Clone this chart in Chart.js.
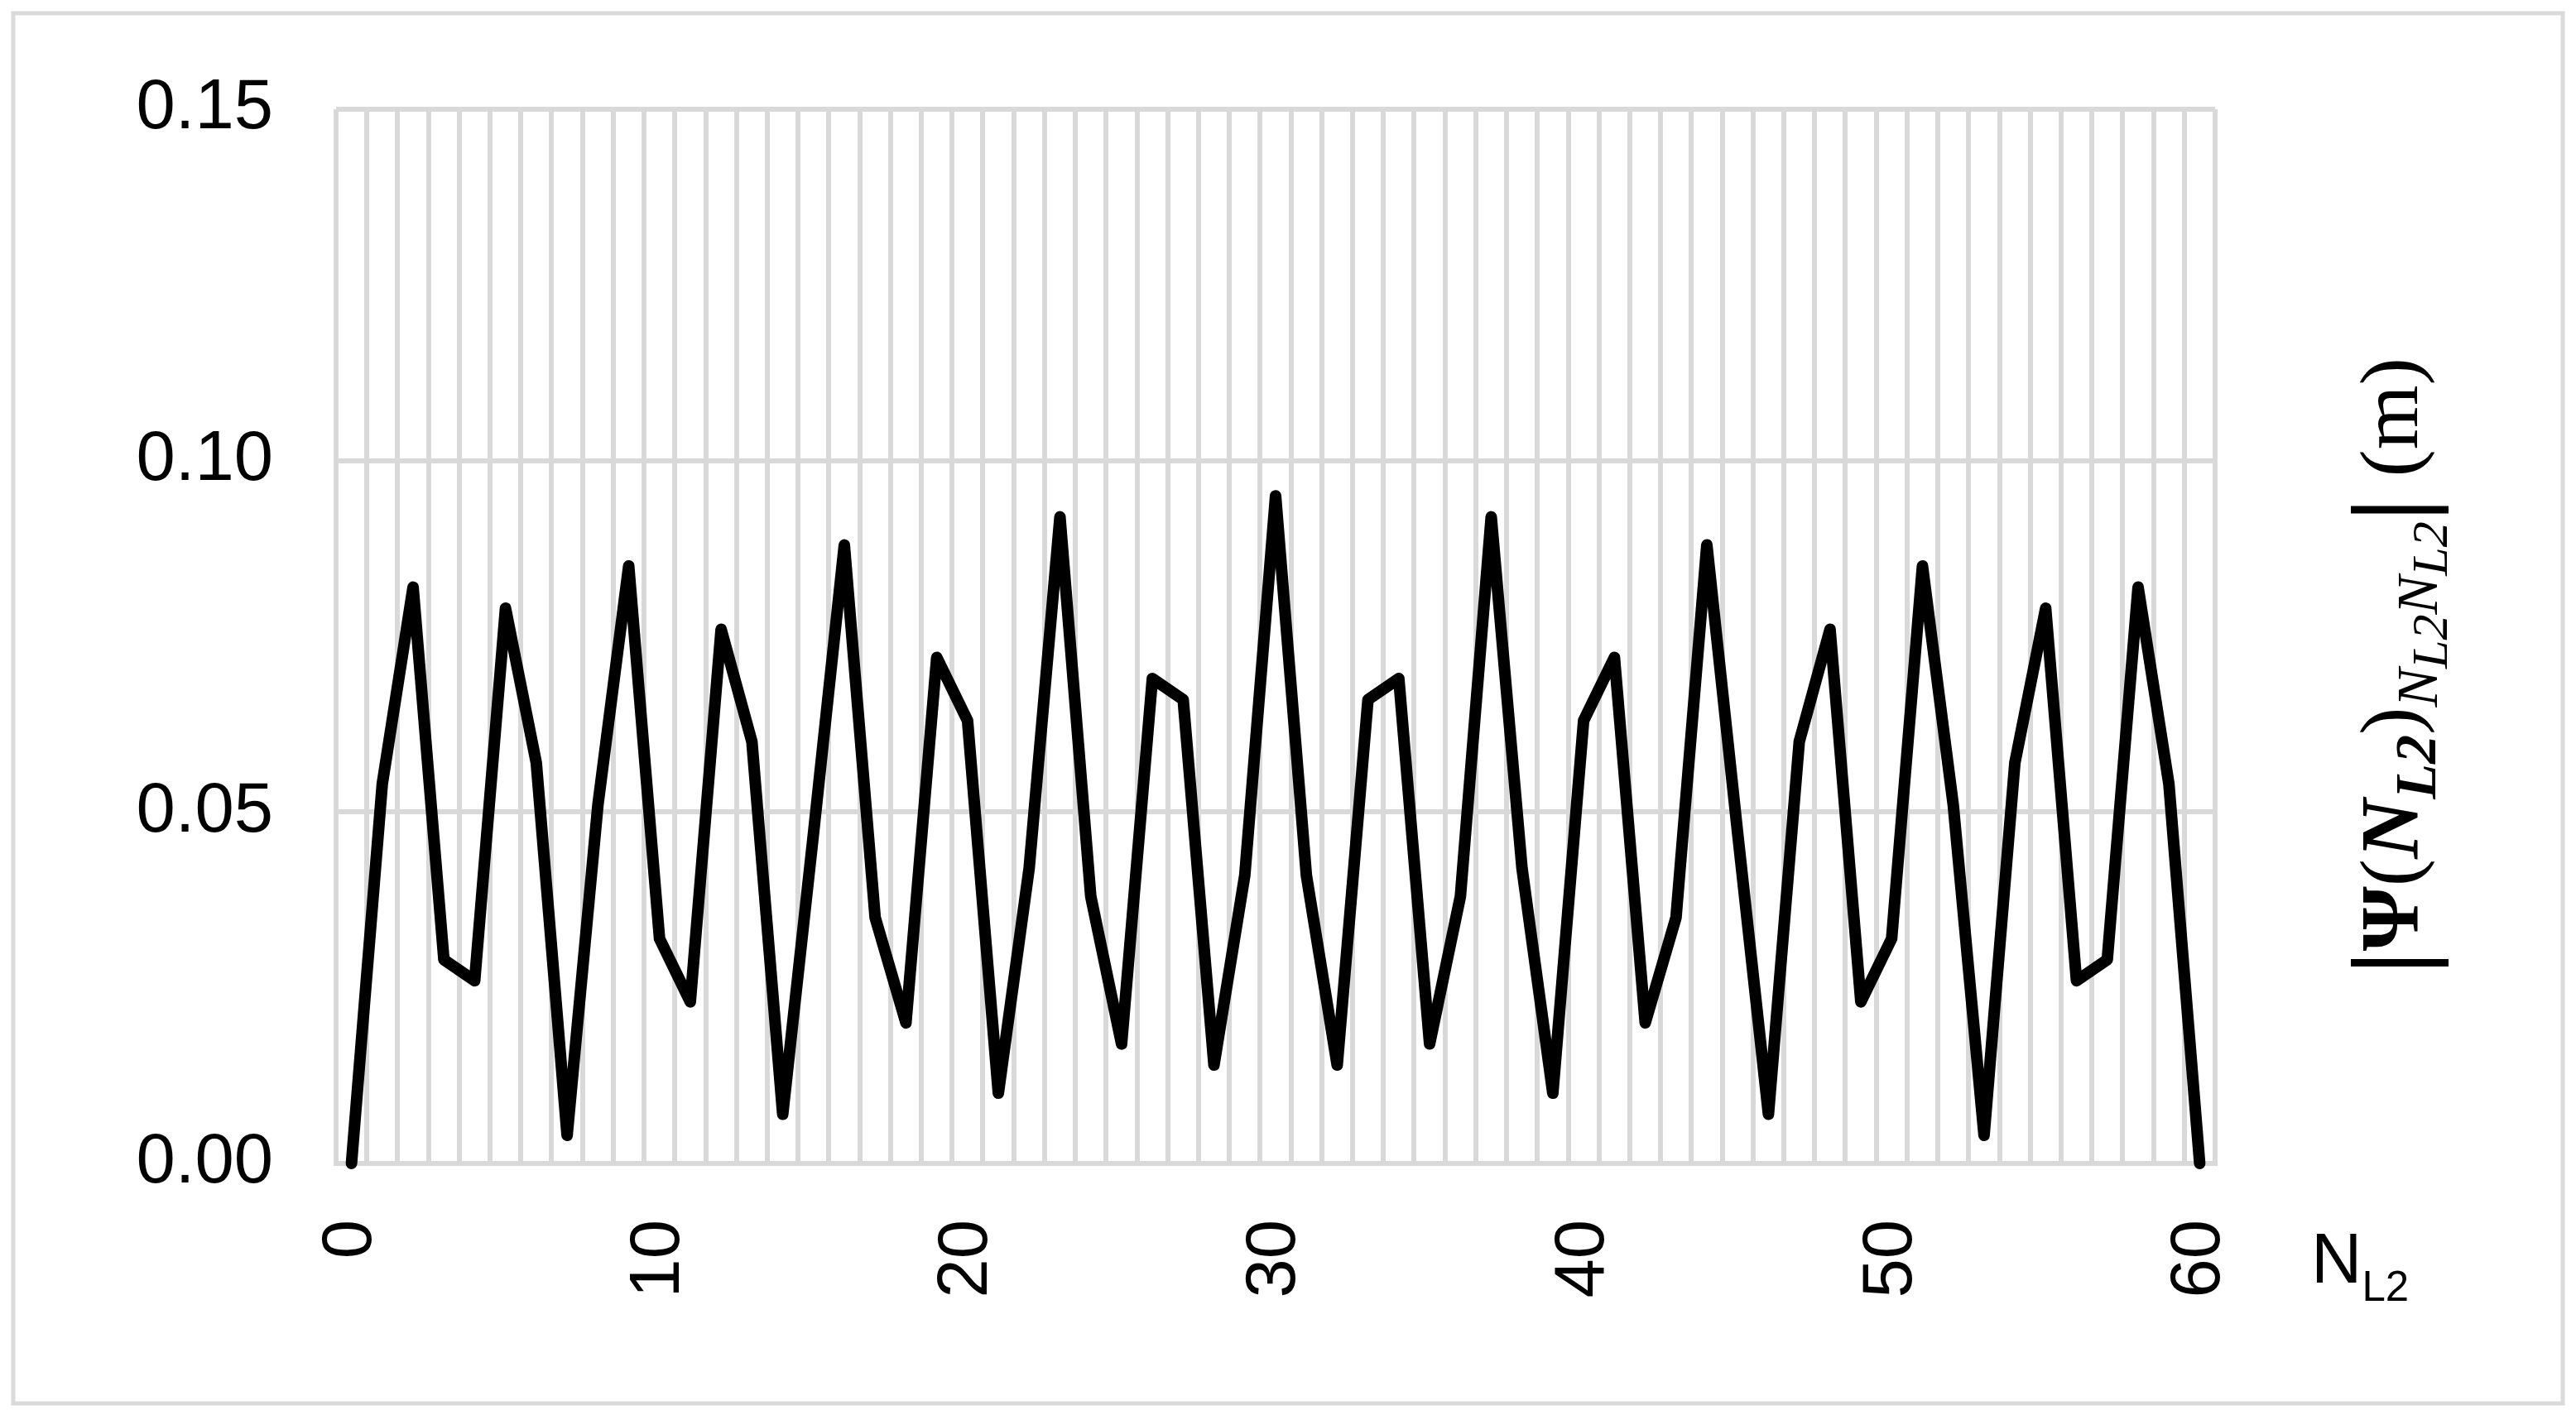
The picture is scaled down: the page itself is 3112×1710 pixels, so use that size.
<!DOCTYPE html>
<html>
<head>
<meta charset="utf-8">
<script src="https://cdn.jsdelivr.net/npm/chart.js@4.4.1/dist/chart.umd.min.js"></script>
<style>
  html, body { margin: 0; padding: 0; background: #fff; }
  #chart { display: block; }
</style>
</head>
<body>
<canvas id="chart" width="3112" height="1710"></canvas>
<script>
// Categories (N_L2 = 0..60)
const nL2 = [
  "0", "1", "2", "3", "4", "5", "6", "7", "8", "9",
  "10", "11", "12", "13", "14", "15", "16", "17", "18", "19",
  "20", "21", "22", "23", "24", "25", "26", "27", "28", "29",
  "30", "31", "32", "33", "34", "35", "36", "37", "38", "39",
  "40", "41", "42", "43", "44", "45", "46", "47", "48", "49",
  "50", "51", "52", "53", "54", "55", "56", "57", "58", "59",
  "60",
];

// |Psi(N_L2)| values (m)
const psiValues = [
  0.000, 0.054, 0.082, 0.029, 0.026, 0.079, 0.057, 0.004, 0.051, 0.085,
  0.032, 0.023, 0.076, 0.060, 0.007, 0.047, 0.088, 0.035, 0.020, 0.072,
  0.063, 0.010, 0.042, 0.092, 0.038, 0.017, 0.069, 0.066, 0.014, 0.041,
  0.095, 0.041, 0.014, 0.066, 0.069, 0.017, 0.038, 0.092, 0.042, 0.010,
  0.063, 0.072, 0.020, 0.035, 0.088, 0.047, 0.007, 0.060, 0.076, 0.023,
  0.032, 0.085, 0.051, 0.004, 0.057, 0.079, 0.026, 0.029, 0.082, 0.054,
  0.000,
];

// Tick labels
const xTickLabels = ["0", "10", "20", "30", "40", "50", "60"];
const yTicks = [0, 0.05, 0.1, 0.15];
const yTickLabels = ["0.00", "0.05", "0.10", "0.15"];

// Layout
const W = 3112;
const H = 1710;
const plot = { left: 406, right: 2676, top: 132, bottom: 1406 };
const GRID = "#d9d9d9";
const GRID_W = 6;
const SANS = '"Liberation Sans", Arial, sans-serif';
const SERIF = '"Liberation Serif", "DejaVu Serif", serif';
const TICK_SIZE = 85;

// Frame, axis title and value title
const decorPlugin = {
  id: "decor",
  beforeDraw(chart) {
    const ctx = chart.ctx;
    ctx.save();
    ctx.fillStyle = "#fff";
    ctx.fillRect(0, 0, W, H);
    ctx.strokeStyle = GRID;
    ctx.lineWidth = 5;
    ctx.strokeRect(16, 16, W - 32, H - 30);
    ctx.restore();
  },
  afterDraw(chart) {
    const ctx = chart.ctx;
    ctx.save();
    ctx.fillStyle = "#000";
    ctx.textAlign = "left";
    ctx.textBaseline = "alphabetic";

    // x title: N_L2
    ctx.font = `${TICK_SIZE}px ${SANS}`;
    ctx.fillText("N", 2792, 1550);
    const nw = ctx.measureText("N").width;
    ctx.font = `${Math.round(TICK_SIZE * 0.6)}px ${SANS}`;
    ctx.fillText("L2", 2792 + nw, 1572);

    // y title on the right, reading bottom to top
    const S = 100;
    const runs = [
      { t: "|", f: `bold ${S * 1.3}px ${SERIF}`, dy: S * 0.1 },
      { t: "\u03A8", f: `bold ${S}px ${SERIF}`, dy: 0 },
      { t: "(", f: `${S}px ${SERIF}`, dy: 0 },
      { t: "N", f: `italic bold ${S}px ${SERIF}`, dy: 0 },
      { t: "L2", f: `italic bold ${S * 0.7}px ${SERIF}`, dy: S * 0.22 },
      { t: ")", f: `${S}px ${SERIF}`, dy: 0 },
      { t: "N", f: `italic ${S * 0.7}px ${SERIF}`, dy: S * 0.24 },
      { t: "L2", f: `italic ${S * 0.62}px ${SERIF}`, dy: S * 0.36 },
      { t: "N", f: `italic ${S * 0.7}px ${SERIF}`, dy: S * 0.24 },
      { t: "L2", f: `italic ${S * 0.62}px ${SERIF}`, dy: S * 0.36 },
      { t: "|", f: `bold ${S * 1.3}px ${SERIF}`, dy: S * 0.1 },
      { t: " (m)", f: `${S}px ${SERIF}`, dy: 0 },
    ];
    let total = 0;
    runs.forEach((r) => {
      ctx.font = r.f;
      r.w = ctx.measureText(r.t).width;
      total += r.w;
    });
    ctx.translate(2920, 805);
    ctx.rotate(-Math.PI / 2);
    let x = -total / 2;
    runs.forEach((r) => {
      ctx.font = r.f;
      ctx.fillText(r.t, x, r.dy);
      x += r.w;
    });
    ctx.restore();
  },
};

new Chart(document.getElementById("chart"), {
  type: "line",
  data: {
    labels: nL2,
    datasets: [
      {
        data: psiValues,
        borderColor: "#000",
        borderWidth: 14,
        borderJoinStyle: "round",
        borderCapStyle: "round",
        pointRadius: 0,
        tension: 0,
        fill: false,
        clip: false,
      },
    ],
  },
  options: {
    responsive: false,
    devicePixelRatio: 1,
    animation: false,
    layout: {
      padding: { left: 0, top: plot.top, right: W - plot.right, bottom: 0 },
    },
    plugins: {
      legend: { display: false },
      tooltip: { enabled: false },
    },
    scales: {
      x: {
        type: "category",
        offset: true,
        grid: { offset: true, color: GRID, lineWidth: GRID_W, drawTicks: false },
        border: { color: GRID, width: GRID_W },
        ticks: {
          autoSkip: false,
          minRotation: 90,
          maxRotation: 90,
          padding: 68,
          color: "#000",
          font: { family: SANS, size: TICK_SIZE },
          callback: function (value) {
            const label = this.getLabelForValue(value);
            return xTickLabels.includes(label) ? label : "";
          },
        },
        afterFit: (scale) => {
          scale.height = H - plot.bottom;
        },
      },
      y: {
        min: 0,
        max: 0.15,
        afterBuildTicks: (scale) => {
          scale.ticks = yTicks.map((v) => ({ value: v }));
        },
        grid: { color: GRID, lineWidth: GRID_W, drawTicks: false },
        border: { display: false },
        ticks: {
          padding: 76,
          color: "#000",
          font: { family: SANS, size: TICK_SIZE },
          callback: (value) => yTickLabels[yTicks.indexOf(value)],
        },
        afterFit: (scale) => {
          scale.width = plot.left;
        },
      },
    },
  },
  plugins: [decorPlugin],
});
</script>
</body>
</html>
